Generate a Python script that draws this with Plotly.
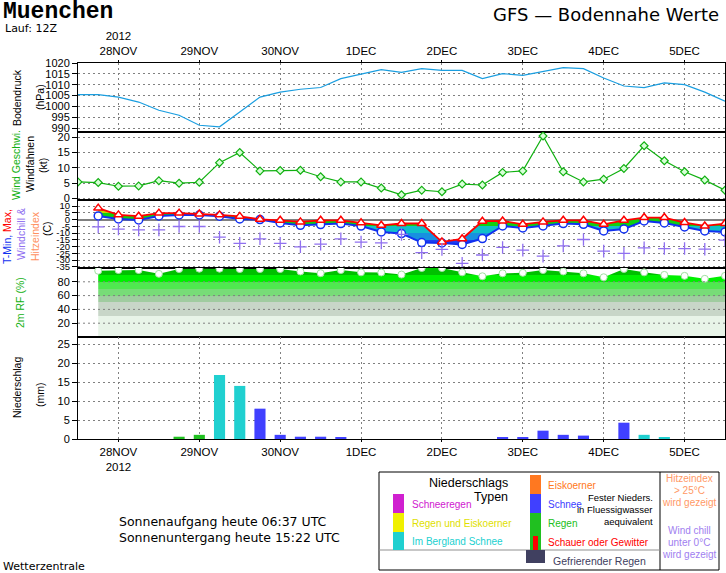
import numpy as np
import pandas as pd
import plotly.graph_objects as go

# ---------------- data ----------------
times_full = pd.date_range("2012-11-27 12:00", periods=33, freq="6h")   # pressure & wind
times_t = times_full[1:]                                                # temperature, RH, precip

pressure = [1005.4, 1005.4, 1004.3, 1002.0, 998.2, 995.9, 991.3, 990.6, 997.4, 1004.3,
            1006.6, 1007.9, 1008.7, 1012.8, 1014.9, 1016.9, 1015.7, 1017.4, 1016.6, 1016.6,
            1012.8, 1015.1, 1014.3, 1016.2, 1017.9, 1017.4, 1013.1, 1009.4, 1008.7, 1010.8,
            1010.0, 1006.6, 1002.4]

wind = [5.4, 5.2, 4.0, 4.1, 5.8, 5.0, 5.3, 11.7, 15.0, 9.0,
        9.1, 9.2, 7.1, 5.4, 5.4, 3.4, 1.2, 2.7, 2.2, 4.7,
        4.4, 8.5, 9.0, 20.4, 8.7, 5.4, 6.3, 9.8, 17.2, 12.3,
        8.7, 6.0, 2.7]

tmax = [8.5, 3.5, 2.5, 4.8, 4.8, 4.2, 3.5, 2.4, 0.2, -0.5,
        -1.7, -0.5, -0.5, -2.4, -4.2, -2.9, -2.9, -16.5, -14.2, -1.2,
        -1.0, -3.5, -1.7, -0.5, -0.5, -3.5, -0.5, 1.5, 1.5, -2.2,
        -4.7, -2.9]

tmin = [2.7, 0.5, -0.3, 2.7, 3.4, 3.4, 2.5, 0.5, 0.0, -2.5,
        -4.2, -3.7, -2.9, -4.8, -9.1, -10.3, -17.0, -17.3, -18.4, -14.0,
        -4.7, -6.2, -4.7, -2.9, -3.5, -8.4, -6.9, -1.0, -2.5, -5.4,
        -8.4, -9.1]

windchill = [-5.4, -7.0, -7.6, -7.6, -5.1, -5.1, -13.0, -17.6, -14.2, -17.6,
             -20.1, -18.2, -14.2, -16.6, -17.2, -11.0, -24.5, -22.0, -32.4, -26.2,
             -20.6, -22.6, -27.0, -19.4, -14.7, -23.3, -25.0, -20.9, -21.4, -21.4,
             -21.9, -15.2]

rh = [96, 97, 97, 91.5, 98.5, 99, 99, 98.5, 98.5, 98.5,
      95, 92.5, 97, 93.7, 93.5, 90.5, 100, 100, 93.7, 88,
      92.3, 93, 97, 95, 92.3, 86.6, 98.6, 93.7, 90, 88.6,
      84.3, 88.6]

precip_rain = [0, 0, 0, 0, 0.6, 1.1, 0, 0, 0, 0,
               0, 0, 0, 0, 0, 0, 0, 0, 0, 0,
               0, 0, 0, 0, 0, 0, 0, 0, 0, 0,
               0, 0]
precip_mtn_snow = [0, 0, 0, 0, 0, 0, 16.9, 14.0, 0, 0,
                   0, 0, 0, 0, 0, 0, 0, 0, 0, 0,
                   0, 0, 0, 0, 0, 0, 0, 1.1, 0.35, 0,
                   0, 0]
precip_snow = [0, 0, 0, 0, 0, 0, 0, 0, 8.0, 1.1,
               0.6, 0.6, 0.35, 0, 0, 0, 0, 0, 0, 0,
               0.35, 0.35, 2.2, 1.1, 0.9, 0, 4.3, 0, 0, 0,
               0, 0]

day_ticks = pd.date_range("2012-11-28", periods=8, freq="D")
day_labels = ["28NOV", "29NOV", "30NOV", "1DEC", "2DEC", "3DEC", "4DEC", "5DEC"]

# ---------------- layout helpers ----------------
W, H = 726, 573
L, R, T, B = 78, 1, 63, 134
PW, PH = W - L - R, H - T - B
X0, X1 = "2012-11-27 12:00", "2012-12-05 12:00"


def fy(py):
    return (T + PH - py) / PH


def fx(px):
    return (px - L) / PW


FONT = "Liberation Sans, Arial, sans-serif"
SANS = "DejaVu Sans, Liberation Sans, sans-serif"


def banded_scale(bands, vmin, vmax):
    """Step colour scale (hard edges) for a vertical fill gradient."""
    cs = []
    for lo, hi, col in bands:
        a = (max(lo, vmin) - vmin) / (vmax - vmin)
        b = (min(hi, vmax) - vmin) / (vmax - vmin)
        cs.append([a, col])
        cs.append([b, col])
    return cs


fig = go.Figure()

# ---- pressure ----
fig.add_trace(go.Scatter(x=times_full, y=pressure, mode="lines",
                         line=dict(color="#1a9ee0", width=1.2),
                         xaxis="x", yaxis="y", showlegend=False))

# ---- wind ----
fig.add_trace(go.Scatter(x=times_full, y=wind, mode="lines+markers",
                         line=dict(color="#10b010", width=1.2),
                         marker=dict(symbol="diamond", size=6, color="#d8ffd8",
                                     line=dict(color="#10b010", width=1.2)),
                         xaxis="x2", yaxis="y2", showlegend=False))

# ---- temperature band fill ----
TMIN_S, TMAX_S = -40.0, 20.0
t_bands = [(-40, -15, "#2040f0"), (-15, -10, "#1890e0"), (-10, -5, "#10c0c8"),
           (-5, 5, "#10d010"), (5, 20, "#c8d000")]
fig.add_trace(go.Scatter(x=times_t, y=tmin, mode="lines", line=dict(width=0),
                         xaxis="x3", yaxis="y3", showlegend=False, hoverinfo="skip"))
fig.add_trace(go.Scatter(x=times_t, y=tmax, mode="lines", line=dict(width=0),
                         fill="tonexty",
                         fillgradient=dict(type="vertical", start=TMIN_S, stop=TMAX_S,
                                           colorscale=banded_scale(t_bands, TMIN_S, TMAX_S)),
                         xaxis="x3", yaxis="y3", showlegend=False, hoverinfo="skip"))

fig.add_trace(go.Scatter(x=times_t, y=tmin, mode="lines+markers",
                         line=dict(color="#1030f0", width=2),
                         marker=dict(symbol="circle", size=8, color="white",
                                     line=dict(color="#1030f0", width=1.5)),
                         xaxis="x3", yaxis="y3", showlegend=False))
fig.add_trace(go.Scatter(x=times_t, y=tmax, mode="lines+markers",
                         line=dict(color="#ff0000", width=1.8),
                         marker=dict(symbol="triangle-up", size=8, color="white",
                                     line=dict(color="#ff0000", width=1.5)),
                         xaxis="x3", yaxis="y3", showlegend=False))
fig.add_trace(go.Scatter(x=times_t, y=windchill, mode="markers",
                         marker=dict(symbol="cross-thin", size=9,
                                     line=dict(color="#9070f0", width=1.3)),
                         xaxis="x3", yaxis="y3", showlegend=False))

# ---- relative humidity band fill ----
rh_bands = [(0, 30, "#e8f4e8"), (30, 50, "#c8d6c8"), (50, 60, "#a0cca0"),
            (60, 70, "#78dc78"), (70, 80, "#50e850"), (80, 90, "#00f000"),
            (90, 100, "#00c000")]
fig.add_trace(go.Scatter(x=times_t, y=rh, mode="lines", line=dict(width=0),
                         fill="tozeroy",
                         fillgradient=dict(type="vertical", start=0, stop=100,
                                           colorscale=banded_scale(rh_bands, 0, 100)),
                         xaxis="x4", yaxis="y4", showlegend=False, hoverinfo="skip"))
fig.add_trace(go.Scatter(x=times_t, y=rh, mode="markers",
                         marker=dict(symbol="circle", size=7, color="white",
                                     line=dict(color="#a0e0a0", width=1)),
                         xaxis="x4", yaxis="y4", showlegend=False))

# ---- precipitation ----
bar_w = 3.3 * 3600 * 1000
for vals, col in [(precip_rain, "#20c020"), (precip_mtn_snow, "#20d0d0"), (precip_snow, "#4040ff")]:
    fig.add_trace(go.Bar(x=times_t, y=vals, width=bar_w, marker=dict(color=col, line=dict(width=0)),
                         xaxis="x5", yaxis="y5", showlegend=False))

# ---------------- axes ----------------
dom = {
    1: [fy(132), 1.0],
    2: [fy(200), fy(132)],
    3: [fy(268), fy(200)],
    4: [fy(337), fy(268)],
    5: [0.0, fy(337)],
}
tickfont = dict(family=FONT, size=11, color="black")
grid = dict(gridcolor="#808080", griddash="2px,3px", gridwidth=1)

for i in range(1, 6):
    xa = dict(type="date", range=[X0, X1], anchor="y" if i == 1 else f"y{i}",
              showline=True, mirror=True, linecolor="black", linewidth=1,
              tickvals=list(day_ticks), tickfont=dict(family=FONT, size=11.5, color="black"),
              zeroline=False)
    if i > 1:
        xa["matches"] = "x"
    if i == 1:
        xa.update(side="top", showticklabels=True, ticks="outside", ticklen=2,
                  tickcolor="black",
                  ticktext=["2012<br>" + day_labels[0]] + day_labels[1:],
                  showgrid=True, **grid)
    elif i == 5:
        xa.update(side="bottom", showticklabels=True, ticks="outside", ticklen=2,
                  tickcolor="black",
                  ticktext=[day_labels[0] + "<br>2012"] + day_labels[1:],
                  showgrid=True, **grid)
    else:
        xa.update(showticklabels=False, ticks="", showgrid=False)
    fig.layout["xaxis" if i == 1 else f"xaxis{i}"] = xa

yaxes = {
    1: dict(range=[988.2, 1020], tickvals=list(range(990, 1021, 5)), showgrid=True),
    2: dict(range=[-0.5, 21.7], tickvals=[0, 5, 10, 15, 20], showgrid=True),
    3: dict(range=[-35.8, 14.5], tickvals=list(range(-35, 11, 5)),
            ticktext=[str(v) for v in range(-35, 11, 5)], showgrid=True,
            zeroline=True, zerolinecolor="#808080", zerolinewidth=1.5),
    4: dict(range=[0, 100], tickvals=[20, 40, 60, 80], showgrid=False),
    5: dict(range=[0, 26.9], tickvals=[0, 5, 10, 15, 20, 25], showgrid=True),
}
for i, ya in yaxes.items():
    ya.update(domain=dom[i], anchor="x" if i == 1 else f"x{i}",
              showline=True, mirror=True, linecolor="black", linewidth=1,
              ticks="outside", ticklen=5, tickcolor="black",
              tickfont=dict(family=FONT, size=9.5 if i == 3 else 11, color="black"),
              fixedrange=True)
    if ya.get("showgrid"):
        ya.update(**grid)
    ya.setdefault("zeroline", False)
    fig.layout["yaxis" if i == 1 else f"yaxis{i}"] = ya

# RH grid lines drawn above the fill
shapes = []
for v in [20, 40, 60, 80]:
    shapes.append(dict(type="line", xref="x4 domain", x0=0, x1=1, yref="y4", y0=v, y1=v,
                       line=dict(color="#808080", width=1, dash="2px,3px"), layer="above"))

# ---------------- annotations ----------------
ann = []


def text(px, py, s, size=10.5, color="black", angle=0, xanchor="center", family=FONT, yanchor="middle"):
    ann.append(dict(x=fx(px), y=fy(py), xref="paper", yref="paper", text=s, showarrow=False,
                    textangle=angle, xanchor=xanchor, yanchor=yanchor,
                    font=dict(family=family, size=size, color=color)))


# title
text(1, -3, "<b>Muenchen</b>", size=23, color="black", xanchor="left", yanchor="top",
     family="Liberation Mono, DejaVu Sans Mono, monospace")
text(3, 29, "Lauf: 12Z", size=11, xanchor="left", family=SANS)
text(721, 14, "GFS \u2014 Bodennahe Werte", size=18, xanchor="right", family=SANS)

# axis titles
text(17, 98, "Bodendruck", angle=-90)
text(40, 97, "(hPa)", angle=-90)
text(16, 165, "Wind Geschwi.", angle=-90, color="#10b010")
text(30, 164, "Windfahnen", angle=-90)
text(43, 166, "(kt)", angle=-90)
text(7, 237, "<span style='color:#1030f0'>T-Min,</span> <span style='color:#ff0000'>Max,</span>", angle=-90)
text(21, 234, "Windchill &", angle=-90, color="#9070f0")
text(35, 236, "Hitzeindex", angle=-90, color="#ff9060")
text(47, 229, "(C)", angle=-90)
text(20, 303, "2m RF (%)", angle=-90, color="#10b010")
text(17, 388, "Niederschlag", angle=-90)
text(40, 395, "(mm)", angle=-90)

# sunrise
text(117, 521, "Sonnenaufgang heute 06:37 UTC", size=12.5, xanchor="left", family=SANS)
text(117, 537, "Sonnenuntergang heute 15:22 UTC", size=12.5, xanchor="left", family=SANS)
text(1, 566, "Wetterzentrale", size=11, xanchor="left", family=SANS)


# legend box
def rect(x0, y0, x1, y1, fill=None, line=None, lw=1):
    shapes.append(dict(type="rect", xref="paper", yref="paper",
                       x0=fx(x0), x1=fx(x1), y0=fy(y1), y1=fy(y0),
                       fillcolor=fill if fill else "rgba(0,0,0,0)",
                       line=dict(color=line if line else "rgba(0,0,0,0)", width=lw if line else 0),
                       layer="above"))


def hline(x0, x1, y, color, lw=1):
    shapes.append(dict(type="line", xref="paper", yref="paper", x0=fx(x0), x1=fx(x1),
                       y0=fy(y), y1=fy(y), line=dict(color=color, width=lw), layer="above"))


rect(379, 472, 719, 570, line="black", lw=1)
shapes.append(dict(type="line", xref="paper", yref="paper", x0=fx(660), x1=fx(660),
                   y0=fy(472), y1=fy(570), line=dict(color="black", width=1)))
hline(379, 660, 550, "#909090")
rect(393, 494, 404, 513, fill="#d020d0")
rect(393, 513, 404, 532, fill="#f0f000")
rect(393, 532, 404, 550, fill="#20d0d0")
rect(530, 475, 541, 494, fill="#ff7820")
rect(530, 494, 541, 513, fill="#4040ff")
rect(530, 513, 541, 532, fill="#20c020")
rect(530, 532, 541, 550, fill="#20c020")
rect(533, 536, 538, 550, fill="#ff0000")
rect(526, 550, 545, 563, fill="#404060")

text(510, 483, "Niederschlags", size=12.5, xanchor="right")
text(510, 497, "Typen", size=12.5, xanchor="right")
text(410, 504, "Schneeregen", size=10, color="#d020d0", xanchor="left")
text(410, 523, "Regen und Eiskoerner", size=10, color="#e0e000", xanchor="left")
text(410, 541, "Im Bergland Schnee", size=10, color="#20d0d0", xanchor="left")
text(546, 485, "Eiskoerner", size=10, color="#ff7820", xanchor="left")
text(546, 504, "Schnee", size=10, color="#4040ff", xanchor="left")
text(546, 523, "Regen", size=10, color="#20c020", xanchor="left")
text(546, 542, "Schauer oder Gewitter", size=10, color="#ff0000", xanchor="left")
text(655, 497, "Fester Nieders.", size=9.5, xanchor="right")
text(655, 509, "in Fluessigwasser", size=9.5, xanchor="right")
text(655, 521, "aequivalent", size=9.5, xanchor="right")
text(551, 561, "Gefrierender Regen", size=10.5, color="#404060", xanchor="left")
text(689, 478, "Hitzeindex", size=10, color="#ff9966")
text(689, 490, "> 25\u00b0C", size=10, color="#ff9966")
text(689, 502, "wird gezeigt", size=10, color="#ff9966")
text(689, 530, "Wind chill", size=10, color="#a080f0")
text(689, 542, "unter 0\u00b0C", size=10, color="#a080f0")
text(689, 554, "wird gezeigt", size=10, color="#a080f0")

fig.update_layout(
    width=W, height=H,
    margin=dict(l=L, r=R, t=T, b=B, pad=0),
    paper_bgcolor="white", plot_bgcolor="white",
    barmode="overlay", showlegend=False,
    shapes=shapes, annotations=ann,
    font=dict(family=FONT, size=11, color="black"),
)

fig.write_html("out.html", config={"displayModeBar": False},
               post_script="document.body.style.margin='0px';document.body.style.overflow='hidden';")
